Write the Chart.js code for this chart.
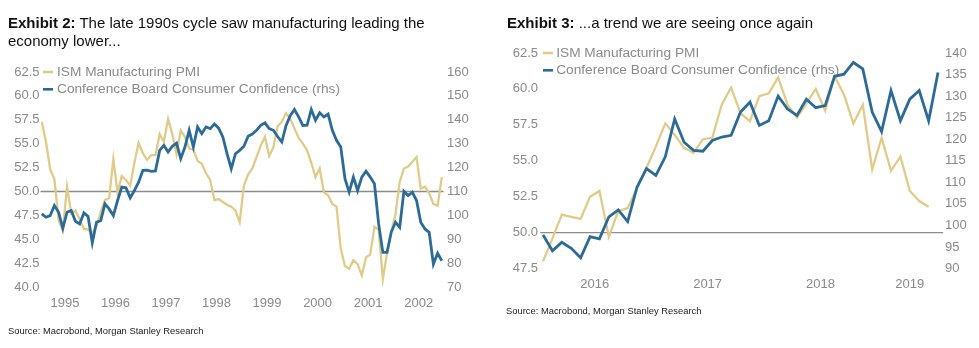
<!DOCTYPE html>
<html>
<head>
<meta charset="utf-8">
<script src="https://cdn.jsdelivr.net/npm/chart.js@4/dist/chart.umd.min.js"></script>
<style>
  html, body { margin: 0; padding: 0; background: #fff; }
  body { width: 979px; height: 348px; position: relative; overflow: hidden;
         font-family: "Liberation Sans", Arial, sans-serif; }
  canvas { position: absolute; top: 0; }
  .title { position: absolute; font-size: 15px; line-height: 18px; color: #111; white-space: nowrap; z-index: 2; }
  .title b { font-weight: bold; }
  .source { position: absolute; font-size: 9.4px; line-height: 11px; color: #222; white-space: nowrap; z-index: 2; }
</style>
</head>
<body>
<div class="title" style="left:8px; top:13.5px;"><b>Exhibit 2:</b> The late 1990s cycle saw manufacturing leading the<br>economy lower...</div>
<div class="title" style="left:507px; top:14px;"><b>Exhibit 3:</b> ...a trend we are seeing once again</div>
<canvas id="c1" width="490" height="348" style="left:0px"></canvas>
<canvas id="c2" width="489" height="348" style="left:490px"></canvas>
<div class="source" style="left:8px; top:324.8px;">Source: Macrobond, Morgan Stanley Research</div>
<div class="source" style="left:506px; top:305.3px;">Source: Macrobond, Morgan Stanley Research</div>

<script>
// Series names
const seriesNames = ['ISM Manufacturing PMI', 'Conference Board Consumer Confidence (rhs)'];

// Exhibit 2: monthly, Jan 1995 - Dec 2002
const start1 = [1995, 1];
const pmi1 = [
  57.3, 55.2, 52.3, 51.3, 47.0, 45.9, 50.5, 47.7, 48.0, 47.1, 46.1, 46.0,
  45.6, 46.4, 47.8, 49.1, 49.3, 53.4, 49.9, 51.6, 51.2, 50.6, 53.0, 55.1,
  54.0, 53.3, 53.8, 53.8, 56.0, 55.2, 57.6, 56.0, 53.9, 56.4, 55.7, 54.5,
  54.4, 53.2, 52.9, 51.9, 51.2, 49.1, 49.2, 48.9, 48.6, 48.4, 48.0, 46.8,
  50.6, 51.8, 52.4, 53.6, 54.8, 55.7, 53.7, 54.6, 56.8, 57.3, 58.2, 57.6,
  56.6, 55.6, 55.0, 54.3, 53.0, 51.5, 52.4, 49.9, 49.6, 48.7, 48.4, 44.0,
  42.2, 41.9, 42.8, 42.4, 41.2, 43.1, 43.4, 46.3, 46.0, 40.8, 43.6, 45.8,
  47.6, 51.0, 52.4, 52.6, 53.1, 53.6, 50.3, 50.5, 49.8, 48.7, 48.5, 51.5
];
const conf1 = [
  100.6,  99.2,  99.9, 104.1, 101.3,  94.6, 101.3, 102.0,  97.5,  96.4, 101.0,  99.5,
   88.5,  97.1,  97.8, 104.8, 102.7,  99.9, 106.2, 111.8, 111.5, 107.3, 110.4, 113.9,
  118.8, 118.9, 118.4, 118.6, 127.2, 129.3, 126.5, 128.9, 130.2, 123.7, 128.6, 135.6,
  128.6, 137.0, 134.2, 137.0, 136.3, 138.2, 136.5, 132.8, 125.8, 119.5, 125.8, 127.2,
  128.9, 133.1, 134.0, 135.6, 137.7, 138.7, 136.3, 135.6, 133.0, 130.7, 137.5, 141.7,
  144.3, 141.2, 137.6, 137.7, 144.3, 139.8, 142.9, 141.2, 142.4, 135.6, 131.4, 128.6,
  115.3, 109.7, 116.0, 110.4, 116.0, 118.5, 116.0, 113.2,  96.4,  84.5,  84.5,  93.0,
   97.1,  95.0, 110.1, 108.3, 109.7, 106.2,  97.1,  94.3,  92.9,  79.6,  84.1,  81.0
];

// Exhibit 3: monthly, Jan 2016 - Jul 2019 (PMI to Jun 2019)
const start2 = [2016, 1];
const pmi2 = [
  48.0, 49.6, 51.25, 51.1, 50.95, 52.5, 52.9, 49.7, 51.5, 51.7, 53.1, 54.5,
  56.0, 57.6, 56.8, 55.9, 55.55, 56.5, 56.6, 58.9, 60.1, 58.3, 57.75, 59.5,
  59.7, 60.8, 58.9, 58.0, 59.0, 60.0, 58.5, 60.9, 59.6, 57.6, 58.9, 54.4,
  56.6, 54.3, 55.3, 52.9, 52.2, 51.8, null
];
const conf2 = [
   97.8,  94.1,  96.1,  94.7,  92.5,  97.4,  96.9, 102.0, 103.6, 100.9, 108.9, 113.2,
  111.6, 115.9, 124.7, 119.3, 117.4, 117.2, 119.7, 120.5, 120.9, 126.3, 128.6, 123.2,
  124.3, 130.0, 127.0, 125.5, 129.3, 127.3, 127.8, 134.6, 135.1, 137.8, 136.3, 126.3,
  121.8, 131.3, 124.3, 129.3, 131.3, 124.3, 135.5
];

// Threshold line on the PMI axis
const pmiThreshold = 50;

const PMI_COLOR = '#e1cb88';
const CONF_COLOR = '#2c6b98';
const TEXT_GREY = '#8a8a8a';

Chart.defaults.font.family = '"Liberation Sans", Arial, sans-serif';
Chart.defaults.font.size = 13;
Chart.defaults.color = TEXT_GREY;

// Month keys 'YYYY-MM' for a run of n months
function monthList(y, m, n) {
  const out = [];
  for (let i = 0; i < n; i++) {
    const yy = y + Math.floor((m - 1 + i) / 12);
    const mm = (m - 1 + i) % 12 + 1;
    out.push(yy + '-' + String(mm).padStart(2, '0'));
  }
  return out;
}

// One label per year, centred on that year's months
function yearTicks(months) {
  const spans = new Map();
  months.forEach((s, i) => {
    const y = s.slice(0, 4);
    if (!spans.has(y)) spans.set(y, [i, i]); else spans.get(y)[1] = i;
  });
  return [...spans].map(([y, [a, b]]) => ({ label: y, value: (a + b) / 2 }));
}

// Legend drawn inside the plot, top-left
const insideLegend = {
  id: 'insideLegend',
  beforeDatasetsDraw(chart, args, opts) {
    const { ctx, chartArea } = chart;
    ctx.save();
    ctx.font = '13.7px "Liberation Sans", Arial, sans-serif';
    ctx.textBaseline = 'middle';
    ctx.textAlign = 'left';
    chart.data.datasets.forEach((ds, i) => {
      const y = chartArea.top + opts.firstY + i * opts.gap;
      const x0 = chartArea.left + opts.markX;
      ctx.strokeStyle = ds.borderColor;
      ctx.lineWidth = 2.6;
      ctx.beginPath();
      ctx.moveTo(x0, y);
      ctx.lineTo(x0 + 10, y);
      ctx.stroke();
      ctx.fillStyle = TEXT_GREY;
      ctx.fillText(ds.label, chartArea.left + opts.textX, y);
    });
    ctx.restore();
  }
};

// Horizontal reference line at the PMI threshold
const refLine = {
  id: 'refLine',
  beforeDatasetsDraw(chart, args, opts) {
    const { ctx, chartArea, scales } = chart;
    const y = scales.y.getPixelForValue(opts.value);
    ctx.save();
    ctx.strokeStyle = '#8c8c8c';
    ctx.lineWidth = 1.4;
    ctx.beginPath();
    ctx.moveTo(chartArea.left, y);
    ctx.lineTo(chartArea.right, y);
    ctx.stroke();
    ctx.restore();
  }
};

function buildChart(id, o) {
  const months = monthList(o.start[0], o.start[1], o.conf.length);
  const years = yearTicks(months);
  return new Chart(document.getElementById(id), {
    type: 'line',
    data: {
      datasets: [
        { label: seriesNames[0], data: o.pmi.map((v, i) => ({ x: i, y: v })), yAxisID: 'y',
          borderColor: PMI_COLOR, borderWidth: 2.3, pointRadius: 0, tension: 0, order: 1 },
        { label: seriesNames[1], data: o.conf.map((v, i) => ({ x: i, y: v })), yAxisID: 'y1',
          borderColor: CONF_COLOR, borderWidth: 2.8, pointRadius: 0, tension: 0, order: 0 }
      ]
    },
    options: {
      responsive: false,
      animation: false,
      devicePixelRatio: 1,
      layout: { padding: { top: o.padTop, bottom: o.padBottom, left: 0, right: 0 } },
      plugins: {
        legend: { display: false },
        tooltip: { enabled: false },
        insideLegend: o.legend,
        refLine: { value: pmiThreshold }
      },
      scales: {
        x: {
          type: 'linear', min: o.xMin, max: o.xMax, bounds: 'data',
          grid: { display: false, drawTicks: false }, border: { display: false },
          ticks: { autoSkip: false, maxRotation: 0, padding: o.xPad,
                   callback: (v, i) => years[i] ? years[i].label : '' },
          afterBuildTicks: s => { s.ticks = years.map(t => ({ value: t.value })); },
          afterFit: s => { s.height = 30; }
        },
        y: {
          position: 'left', min: o.left[0], max: o.left[1],
          grid: { display: false, drawTicks: false }, border: { display: false },
          ticks: { stepSize: o.left[2], padding: o.leftPad, autoSkip: false, callback: v => v.toFixed(1) },
          afterFit: s => { s.width = o.leftW; }
        },
        y1: {
          position: 'right', min: o.right[0], max: o.right[1],
          grid: { display: false, drawTicks: false }, border: { display: false },
          ticks: { stepSize: o.right[2], padding: o.rightPad, autoSkip: false, callback: v => String(v) },
          afterFit: s => { s.width = o.rightW; }
        }
      }
    },
    plugins: [refLine, insideLegend]
  });
}

buildChart('c1', {
  start: start1, pmi: pmi1, conf: conf1,
  left: [40, 62.5, 2.5], right: [70, 160, 10],
  xMin: -0.3, xMax: 95.4,
  padTop: 72, padBottom: 31, leftW: 40.5, rightW: 46.5,
  leftPad: 1, rightPad: 3.5, xPad: 8.5,
  legend: { firstY: 0, gap: 17.3, markX: 2.5, textX: 16.5 }
});

buildChart('c2', {
  start: start2, pmi: pmi2, conf: conf2,
  left: [47.5, 62.5, 2.5], right: [90, 140, 5],
  xMin: -0.3, xMax: 42.55,
  padTop: 53, padBottom: 49.5, leftW: 50.2, rightW: 35.8,
  leftPad: 2.2, rightPad: 1.8, xPad: 8.5,
  legend: { firstY: 0, gap: 17.3, markX: 2.8, textX: 16 }
});
</script>
</body>
</html>
